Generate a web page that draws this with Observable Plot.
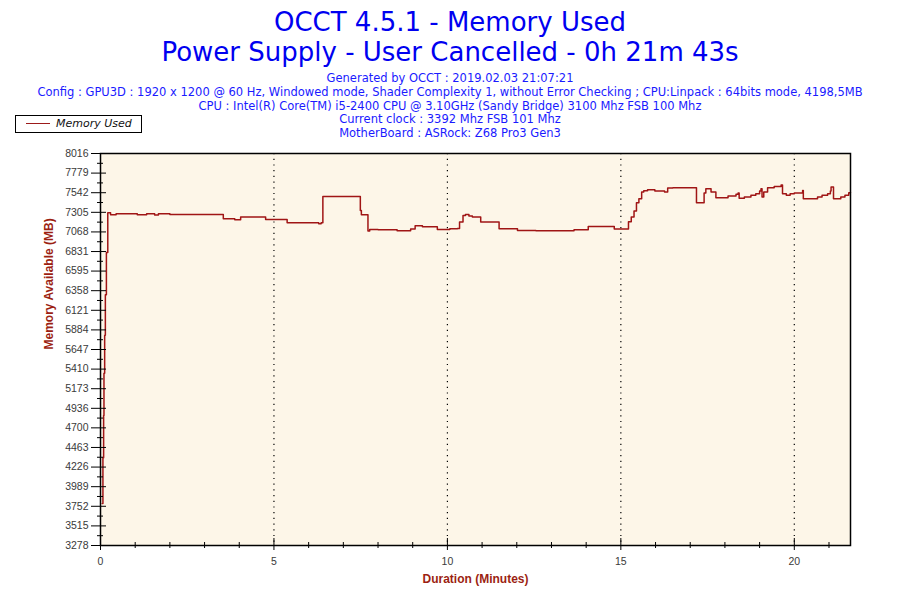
<!DOCTYPE html>
<html>
<head>
<meta charset="utf-8">
<script src="https://cdn.jsdelivr.net/npm/d3@7"></script>
<script src="https://cdn.jsdelivr.net/npm/@observablehq/plot@0.6"></script>
<style>
  body { margin: 0; background: white; }
  #wrap { position: relative; width: 900px; height: 600px; background: white; overflow: hidden; }
  #head { position: relative; height: 140px; }
  .title { position: absolute; left: 0; width: 900px; text-align: center; font-family: "DejaVu Sans", sans-serif; font-size: 26px; line-height: 30px; color: #0000f0; white-space: nowrap; }
  #sub { position: absolute; left: 0; top: 72px; width: 900px; text-align: center; font-family: "DejaVu Sans", sans-serif; font-size: 11.5px; line-height: 13.8px; color: #1a1aff; white-space: nowrap; }
  #legend { position: absolute; left: 15px; top: 115px; width: 125px; height: 16px; border: 1px solid black; background: white; font-family: "DejaVu Sans", sans-serif; font-size: 11px; font-style: italic; }
  #legend .sw { position: absolute; left: 10px; top: 7px; width: 24px; border-top: 1px solid #9c1a1a; }
  #legend .lb { position: absolute; left: 40px; top: 1px; color: #111; }
</style>
</head>
<body>
<div id="wrap">
  <div id="head">
    <div class="title" style="top:7px">OCCT 4.5.1 - Memory Used</div>
    <div class="title" style="top:37px">Power Supply - User Cancelled - 0h 21m 43s</div>
    <div id="sub"></div>
    <div id="legend"><span class="sw"></span><span class="lb">Memory Used</span></div>
  </div>
  <div id="chart"></div>
</div>
<script>
// header text
const infoLines = [
  "Generated by OCCT : 2019.02.03 21:07:21",
  "Config : GPU3D : 1920 x 1200 @ 60 Hz, Windowed mode, Shader Complexity 1, without Error Checking ; CPU:Linpack : 64bits mode, 4198,5MB",
  "CPU : Intel(R) Core(TM) i5-2400 CPU @ 3.10GHz (Sandy Bridge) 3100 Mhz FSB 100 Mhz",
  "Current clock : 3392 Mhz FSB 101 Mhz",
  "MotherBoard : ASRock: Z68 Pro3 Gen3"
];
d3.select("#sub").selectAll("div").data(infoLines).join("div").text((d) => d);

// tick labels
const yTicks = [3278, 3515, 3752, 3989, 4226, 4463, 4700, 4936, 5173, 5410, 5647,
  5884, 6121, 6358, 6595, 6831, 7068, 7305, 7542, 7779, 8016];
const xTicks = [0, 5, 10, 15, 20];
const xMinorTicks = [1, 2, 3, 4, 6, 7, 8, 9, 11, 12, 13, 14, 16, 17, 18, 19, 21];

// series: time in minutes, memory in MB (stepped)
const timeMin = [0.05, 0.07, 0.09, 0.10, 0.12, 0.14, 0.17, 0.21, 0.29, 0.45, 1.06, 1.33,
  1.56, 1.67, 2.0, 3.54, 3.87, 4.04, 4.76, 5.38, 6.29, 6.36, 6.41, 7.49, 7.52, 7.71,
  7.76, 8.0, 8.55, 8.94, 9.07, 9.28, 9.71, 10.07, 10.29, 10.35, 10.45, 10.52, 10.62,
  10.72, 10.96, 11.49, 12.02, 12.55, 13.65, 14.06, 14.81, 15.22, 15.30, 15.38, 15.45,
  15.52, 15.60, 15.66, 15.77, 15.98, 16.26, 16.35, 16.50, 17.18, 17.40, 17.45, 17.60,
  17.74, 18.09, 18.32, 18.38, 18.41, 18.56, 18.75, 18.89, 19.0, 19.04, 19.07, 19.12,
  19.23, 19.42, 19.62, 19.66, 19.77, 19.88, 20.0, 20.24, 20.26, 20.67, 20.80, 20.96,
  21.04, 21.06, 21.13, 21.34, 21.46, 21.57, 21.62];
const memoryMB = [3786, 4340, 4850, 5360, 5820, 6310, 6820, 7300, 7276, 7288, 7276, 7288,
  7272, 7288, 7280, 7228, 7216, 7247, 7219, 7180, 7167, 7180, 7495, 7328, 7276, 7078,
  7098, 7094, 7082, 7102, 7143, 7131, 7098, 7107, 7110, 7187, 7268, 7280, 7260,
  7247, 7187, 7107, 7086, 7082, 7094, 7135, 7102, 7190, 7250, 7320, 7420,
  7470, 7550, 7565, 7578, 7562, 7550, 7598, 7603, 7421, 7540, 7590, 7550,
  7482, 7502, 7522, 7538, 7474, 7489, 7510, 7530, 7562, 7590, 7489, 7550,
  7603, 7618, 7634, 7530, 7510, 7530, 7538, 7570, 7470, 7489, 7510, 7530,
  7562, 7610, 7470, 7489, 7510, 7542, 7542];

const data = timeMin.map((t, i) => ({ t, mem: memoryMB[i] }));
const yMinor = d3.pairs(yTicks, (a, b) => (a + b) / 2);

const lineColor = "#a01515";
const titleColor = "#9c1f12";

const chart = Plot.plot({
  width: 900,
  height: 460,
  marginLeft: 100,
  marginRight: 50,
  marginTop: 13,
  marginBottom: 55,
  style: { fontFamily: "Liberation Sans, Arial, sans-serif", fontSize: "10.5px", background: "white" },
  x: { domain: [0, 21.62] },
  y: { domain: [3278, 8016] },
  marks: [
    Plot.frame({ fill: "#fdf6e8" }),
    Plot.ruleX(xTicks.slice(1), { stroke: "black", strokeDasharray: "1.2,4.5", strokeWidth: 1.2 }),
    Plot.line(data, { x: "t", y: "mem", curve: "step-after", stroke: lineColor, strokeWidth: 1.5 }),
    // y ticks crossing the axis
    Plot.axisY(yTicks, { tickSize: 15, dx: 6, tickFormat: () => "", stroke: "black", label: null }),
    Plot.axisY(yMinor, { tickSize: 6, dx: 3, tickFormat: () => "", stroke: "black", label: null }),
    Plot.axisY(yTicks, { tickSize: 0, tickPadding: 12, tickFormat: (d) => String(d), color: "#3a3a3a", label: null }),
    // x ticks
    Plot.axisX(xTicks, { tickSize: 12, dy: -7, tickFormat: () => "", stroke: "black", label: null }),
    Plot.axisX(xMinorTicks, { tickSize: 6, dy: -3, tickFormat: () => "", stroke: "black", label: null }),
    Plot.axisX(xTicks, { tickSize: 0, tickPadding: 12, tickFormat: (d) => String(d), color: "#3a3a3a", label: null }),
    Plot.frame({ stroke: "black", strokeWidth: 1.5 }),
    Plot.text(["Memory Available (MB)"], {
      frameAnchor: "left", rotate: -90, dx: -51, fill: titleColor,
      fontWeight: "bold", fontSize: 12, lineAnchor: "middle"
    }),
    Plot.text(["Duration (Minutes)"], {
      frameAnchor: "bottom", dy: 34, fill: titleColor,
      fontWeight: "bold", fontSize: 12, lineAnchor: "middle"
    })
  ]
});

d3.select("#chart").append(() => chart);
</script>
</body>
</html>
